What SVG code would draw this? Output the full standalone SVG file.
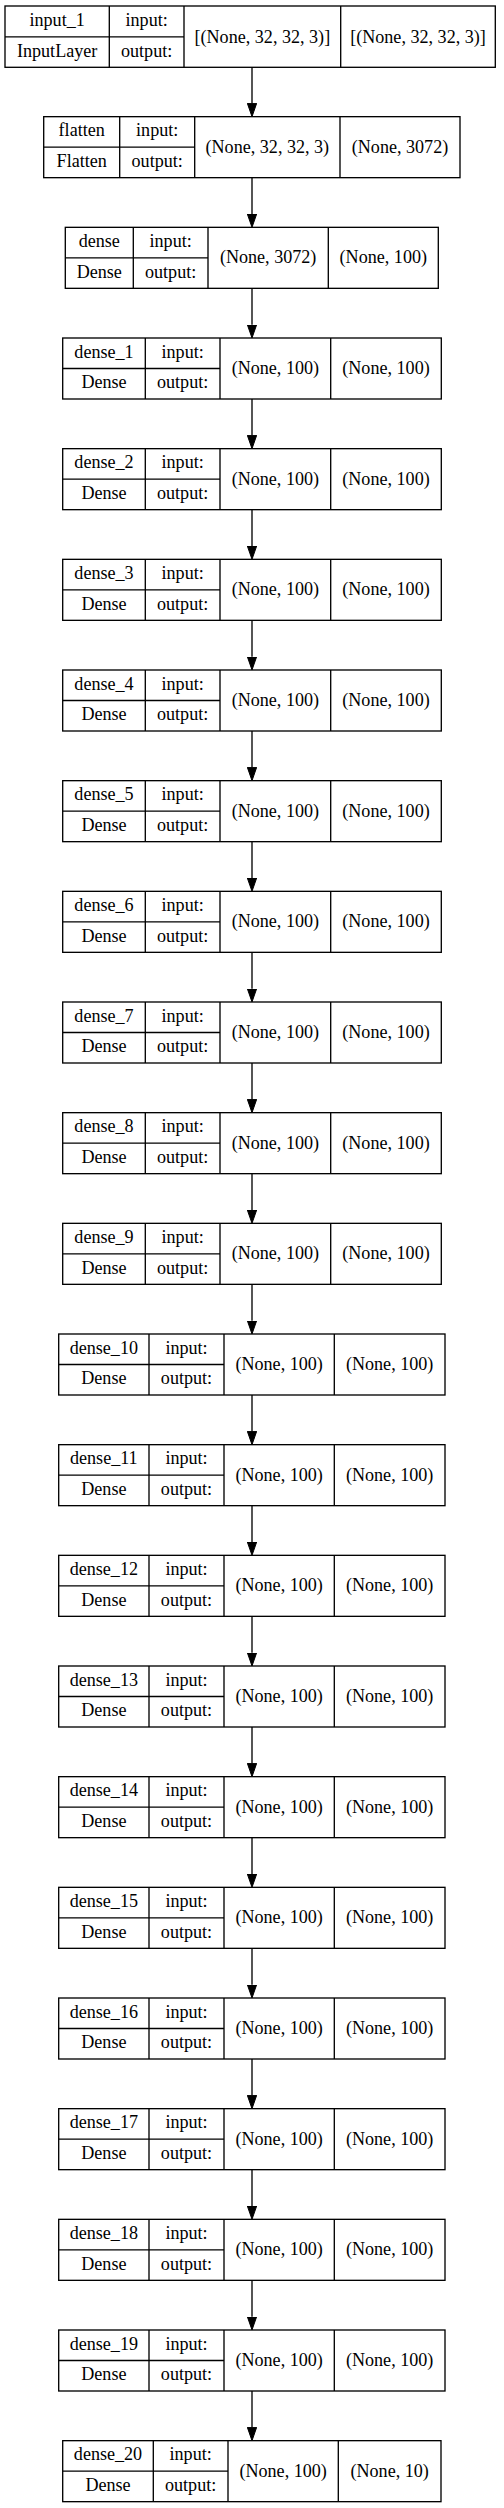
<svg xmlns="http://www.w3.org/2000/svg" width="504" height="2508" viewBox="0 0 504 2508">
<style>
.b{fill:#fff;stroke:#000;stroke-width:1.33}
.l{stroke:#000;stroke-width:1.33;fill:none}
text{font-family:"Liberation Serif","Times New Roman",serif;font-size:18.1px;text-anchor:middle;fill:#000}
.e{stroke:#000;stroke-width:1.33;fill:none;marker-end:url(#ah)}
</style>
<defs>
<marker id="ah" markerUnits="userSpaceOnUse" markerWidth="14" markerHeight="10" refX="0" refY="4.67" orient="auto" viewBox="0 0 14 9.34"><path d="M0,0 L13.33,4.67 L0,9.34 z" fill="#000" stroke="#000" stroke-width="1"/></marker>
</defs>
<rect width="504" height="2508" fill="#fff"/>
<g id="connectors">
<line class="e" x1="252" y1="67" x2="252" y2="103.34"/>
<line class="e" x1="252" y1="177.67" x2="252" y2="214"/>
<line class="e" x1="252" y1="288.33" x2="252" y2="324.67"/>
<line class="e" x1="252" y1="399" x2="252" y2="435.34"/>
<line class="e" x1="252" y1="509.67" x2="252" y2="546"/>
<line class="e" x1="252" y1="620.33" x2="252" y2="656.67"/>
<line class="e" x1="252" y1="731" x2="252" y2="767.34"/>
<line class="e" x1="252" y1="841.67" x2="252" y2="878"/>
<line class="e" x1="252" y1="952.33" x2="252" y2="988.67"/>
<line class="e" x1="252" y1="1063" x2="252" y2="1099.34"/>
<line class="e" x1="252" y1="1173.67" x2="252" y2="1210"/>
<line class="e" x1="252" y1="1284.33" x2="252" y2="1320.67"/>
<line class="e" x1="252" y1="1395" x2="252" y2="1431.34"/>
<line class="e" x1="252" y1="1505.67" x2="252" y2="1542"/>
<line class="e" x1="252" y1="1616.33" x2="252" y2="1652.67"/>
<line class="e" x1="252" y1="1727" x2="252" y2="1763.34"/>
<line class="e" x1="252" y1="1837.67" x2="252" y2="1874"/>
<line class="e" x1="252" y1="1948.33" x2="252" y2="1984.67"/>
<line class="e" x1="252" y1="2059" x2="252" y2="2095.34"/>
<line class="e" x1="252" y1="2169.67" x2="252" y2="2206"/>
<line class="e" x1="252" y1="2280.33" x2="252" y2="2316.67"/>
<line class="e" x1="252" y1="2391" x2="252" y2="2427.34"/>
</g>
<g id="input_1" transform="translate(0,6)">
<rect class="b" x="5" y="0" width="490.3" height="61.3"/>
<path class="l" d="M109.3,0V61.3M184,0V61.3M340.7,0V61.3M5,30.8H184"/>
<text x="57.15" y="20">input_1</text><text x="57.15" y="50.5">InputLayer</text>
<text x="146.65" y="20">input:</text><text x="146.65" y="50.5">output:</text>
<text x="262.35" y="36.5">[(None, 32, 32, 3)]</text><text x="418" y="36.5">[(None, 32, 32, 3)]</text>
</g>
<g id="flatten" transform="translate(0,116.67)">
<rect class="b" x="43.7" y="0" width="416.3" height="61"/>
<path class="l" d="M119.7,0V61M194.7,0V61M340,0V61M43.7,30.5H194.7"/>
<text x="81.7" y="19.8">flatten</text><text x="81.7" y="50.2">Flatten</text>
<text x="157.2" y="19.8">input:</text><text x="157.2" y="50.2">output:</text>
<text x="267.35" y="36">(None, 32, 32, 3)</text><text x="400" y="36">(None, 3072)</text>
</g>
<g id="dense" transform="translate(0,227.33)">
<rect class="b" x="65.3" y="0" width="373" height="61"/>
<path class="l" d="M133.3,0V61M208,0V61M328.3,0V61M65.3,30.5H208"/>
<text x="99.3" y="19.8">dense</text><text x="99.3" y="50.2">Dense</text>
<text x="170.65" y="19.8">input:</text><text x="170.65" y="50.2">output:</text>
<text x="268.15" y="36">(None, 3072)</text><text x="383.3" y="36">(None, 100)</text>
</g>
<g id="dense_1" transform="translate(0,338)">
<rect class="b" x="62.7" y="0" width="378.6" height="61"/>
<path class="l" d="M145.3,0V61M220,0V61M330.7,0V61M62.7,30.5H220"/>
<text x="104" y="19.8">dense_1</text><text x="104" y="50.2">Dense</text>
<text x="182.65" y="19.8">input:</text><text x="182.65" y="50.2">output:</text>
<text x="275.35" y="36">(None, 100)</text><text x="386" y="36">(None, 100)</text>
</g>
<g id="dense_2" transform="translate(0,448.67)">
<rect class="b" x="62.7" y="0" width="378.6" height="61"/>
<path class="l" d="M145.3,0V61M220,0V61M330.7,0V61M62.7,30.5H220"/>
<text x="104" y="19.8">dense_2</text><text x="104" y="50.2">Dense</text>
<text x="182.65" y="19.8">input:</text><text x="182.65" y="50.2">output:</text>
<text x="275.35" y="36">(None, 100)</text><text x="386" y="36">(None, 100)</text>
</g>
<g id="dense_3" transform="translate(0,559.33)">
<rect class="b" x="62.7" y="0" width="378.6" height="61"/>
<path class="l" d="M145.3,0V61M220,0V61M330.7,0V61M62.7,30.5H220"/>
<text x="104" y="19.8">dense_3</text><text x="104" y="50.2">Dense</text>
<text x="182.65" y="19.8">input:</text><text x="182.65" y="50.2">output:</text>
<text x="275.35" y="36">(None, 100)</text><text x="386" y="36">(None, 100)</text>
</g>
<g id="dense_4" transform="translate(0,670)">
<rect class="b" x="62.7" y="0" width="378.6" height="61"/>
<path class="l" d="M145.3,0V61M220,0V61M330.7,0V61M62.7,30.5H220"/>
<text x="104" y="19.8">dense_4</text><text x="104" y="50.2">Dense</text>
<text x="182.65" y="19.8">input:</text><text x="182.65" y="50.2">output:</text>
<text x="275.35" y="36">(None, 100)</text><text x="386" y="36">(None, 100)</text>
</g>
<g id="dense_5" transform="translate(0,780.67)">
<rect class="b" x="62.7" y="0" width="378.6" height="61"/>
<path class="l" d="M145.3,0V61M220,0V61M330.7,0V61M62.7,30.5H220"/>
<text x="104" y="19.8">dense_5</text><text x="104" y="50.2">Dense</text>
<text x="182.65" y="19.8">input:</text><text x="182.65" y="50.2">output:</text>
<text x="275.35" y="36">(None, 100)</text><text x="386" y="36">(None, 100)</text>
</g>
<g id="dense_6" transform="translate(0,891.33)">
<rect class="b" x="62.7" y="0" width="378.6" height="61"/>
<path class="l" d="M145.3,0V61M220,0V61M330.7,0V61M62.7,30.5H220"/>
<text x="104" y="19.8">dense_6</text><text x="104" y="50.2">Dense</text>
<text x="182.65" y="19.8">input:</text><text x="182.65" y="50.2">output:</text>
<text x="275.35" y="36">(None, 100)</text><text x="386" y="36">(None, 100)</text>
</g>
<g id="dense_7" transform="translate(0,1002)">
<rect class="b" x="62.7" y="0" width="378.6" height="61"/>
<path class="l" d="M145.3,0V61M220,0V61M330.7,0V61M62.7,30.5H220"/>
<text x="104" y="19.8">dense_7</text><text x="104" y="50.2">Dense</text>
<text x="182.65" y="19.8">input:</text><text x="182.65" y="50.2">output:</text>
<text x="275.35" y="36">(None, 100)</text><text x="386" y="36">(None, 100)</text>
</g>
<g id="dense_8" transform="translate(0,1112.67)">
<rect class="b" x="62.7" y="0" width="378.6" height="61"/>
<path class="l" d="M145.3,0V61M220,0V61M330.7,0V61M62.7,30.5H220"/>
<text x="104" y="19.8">dense_8</text><text x="104" y="50.2">Dense</text>
<text x="182.65" y="19.8">input:</text><text x="182.65" y="50.2">output:</text>
<text x="275.35" y="36">(None, 100)</text><text x="386" y="36">(None, 100)</text>
</g>
<g id="dense_9" transform="translate(0,1223.33)">
<rect class="b" x="62.7" y="0" width="378.6" height="61"/>
<path class="l" d="M145.3,0V61M220,0V61M330.7,0V61M62.7,30.5H220"/>
<text x="104" y="19.8">dense_9</text><text x="104" y="50.2">Dense</text>
<text x="182.65" y="19.8">input:</text><text x="182.65" y="50.2">output:</text>
<text x="275.35" y="36">(None, 100)</text><text x="386" y="36">(None, 100)</text>
</g>
<g id="dense_10" transform="translate(0,1334)">
<rect class="b" x="58.7" y="0" width="386.3" height="61"/>
<path class="l" d="M149,0V61M224,0V61M334.3,0V61M58.7,30.5H224"/>
<text x="103.85" y="19.8">dense_10</text><text x="103.85" y="50.2">Dense</text>
<text x="186.5" y="19.8">input:</text><text x="186.5" y="50.2">output:</text>
<text x="279.15" y="36">(None, 100)</text><text x="389.65" y="36">(None, 100)</text>
</g>
<g id="dense_11" transform="translate(0,1444.67)">
<rect class="b" x="58.7" y="0" width="386.3" height="61"/>
<path class="l" d="M149,0V61M224,0V61M334.3,0V61M58.7,30.5H224"/>
<text x="103.85" y="19.8">dense_11</text><text x="103.85" y="50.2">Dense</text>
<text x="186.5" y="19.8">input:</text><text x="186.5" y="50.2">output:</text>
<text x="279.15" y="36">(None, 100)</text><text x="389.65" y="36">(None, 100)</text>
</g>
<g id="dense_12" transform="translate(0,1555.33)">
<rect class="b" x="58.7" y="0" width="386.3" height="61"/>
<path class="l" d="M149,0V61M224,0V61M334.3,0V61M58.7,30.5H224"/>
<text x="103.85" y="19.8">dense_12</text><text x="103.85" y="50.2">Dense</text>
<text x="186.5" y="19.8">input:</text><text x="186.5" y="50.2">output:</text>
<text x="279.15" y="36">(None, 100)</text><text x="389.65" y="36">(None, 100)</text>
</g>
<g id="dense_13" transform="translate(0,1666)">
<rect class="b" x="58.7" y="0" width="386.3" height="61"/>
<path class="l" d="M149,0V61M224,0V61M334.3,0V61M58.7,30.5H224"/>
<text x="103.85" y="19.8">dense_13</text><text x="103.85" y="50.2">Dense</text>
<text x="186.5" y="19.8">input:</text><text x="186.5" y="50.2">output:</text>
<text x="279.15" y="36">(None, 100)</text><text x="389.65" y="36">(None, 100)</text>
</g>
<g id="dense_14" transform="translate(0,1776.67)">
<rect class="b" x="58.7" y="0" width="386.3" height="61"/>
<path class="l" d="M149,0V61M224,0V61M334.3,0V61M58.7,30.5H224"/>
<text x="103.85" y="19.8">dense_14</text><text x="103.85" y="50.2">Dense</text>
<text x="186.5" y="19.8">input:</text><text x="186.5" y="50.2">output:</text>
<text x="279.15" y="36">(None, 100)</text><text x="389.65" y="36">(None, 100)</text>
</g>
<g id="dense_15" transform="translate(0,1887.33)">
<rect class="b" x="58.7" y="0" width="386.3" height="61"/>
<path class="l" d="M149,0V61M224,0V61M334.3,0V61M58.7,30.5H224"/>
<text x="103.85" y="19.8">dense_15</text><text x="103.85" y="50.2">Dense</text>
<text x="186.5" y="19.8">input:</text><text x="186.5" y="50.2">output:</text>
<text x="279.15" y="36">(None, 100)</text><text x="389.65" y="36">(None, 100)</text>
</g>
<g id="dense_16" transform="translate(0,1998)">
<rect class="b" x="58.7" y="0" width="386.3" height="61"/>
<path class="l" d="M149,0V61M224,0V61M334.3,0V61M58.7,30.5H224"/>
<text x="103.85" y="19.8">dense_16</text><text x="103.85" y="50.2">Dense</text>
<text x="186.5" y="19.8">input:</text><text x="186.5" y="50.2">output:</text>
<text x="279.15" y="36">(None, 100)</text><text x="389.65" y="36">(None, 100)</text>
</g>
<g id="dense_17" transform="translate(0,2108.67)">
<rect class="b" x="58.7" y="0" width="386.3" height="61"/>
<path class="l" d="M149,0V61M224,0V61M334.3,0V61M58.7,30.5H224"/>
<text x="103.85" y="19.8">dense_17</text><text x="103.85" y="50.2">Dense</text>
<text x="186.5" y="19.8">input:</text><text x="186.5" y="50.2">output:</text>
<text x="279.15" y="36">(None, 100)</text><text x="389.65" y="36">(None, 100)</text>
</g>
<g id="dense_18" transform="translate(0,2219.33)">
<rect class="b" x="58.7" y="0" width="386.3" height="61"/>
<path class="l" d="M149,0V61M224,0V61M334.3,0V61M58.7,30.5H224"/>
<text x="103.85" y="19.8">dense_18</text><text x="103.85" y="50.2">Dense</text>
<text x="186.5" y="19.8">input:</text><text x="186.5" y="50.2">output:</text>
<text x="279.15" y="36">(None, 100)</text><text x="389.65" y="36">(None, 100)</text>
</g>
<g id="dense_19" transform="translate(0,2330)">
<rect class="b" x="58.7" y="0" width="386.3" height="61"/>
<path class="l" d="M149,0V61M224,0V61M334.3,0V61M58.7,30.5H224"/>
<text x="103.85" y="19.8">dense_19</text><text x="103.85" y="50.2">Dense</text>
<text x="186.5" y="19.8">input:</text><text x="186.5" y="50.2">output:</text>
<text x="279.15" y="36">(None, 100)</text><text x="389.65" y="36">(None, 100)</text>
</g>
<g id="dense_20" transform="translate(0,2440.67)">
<rect class="b" x="62.7" y="0" width="378.3" height="61"/>
<path class="l" d="M153.3,0V61M228,0V61M338.3,0V61M62.7,30.5H228"/>
<text x="108" y="19.8">dense_20</text><text x="108" y="50.2">Dense</text>
<text x="190.65" y="19.8">input:</text><text x="190.65" y="50.2">output:</text>
<text x="283.15" y="36">(None, 100)</text><text x="389.65" y="36">(None, 10)</text>
</g>
</svg>
